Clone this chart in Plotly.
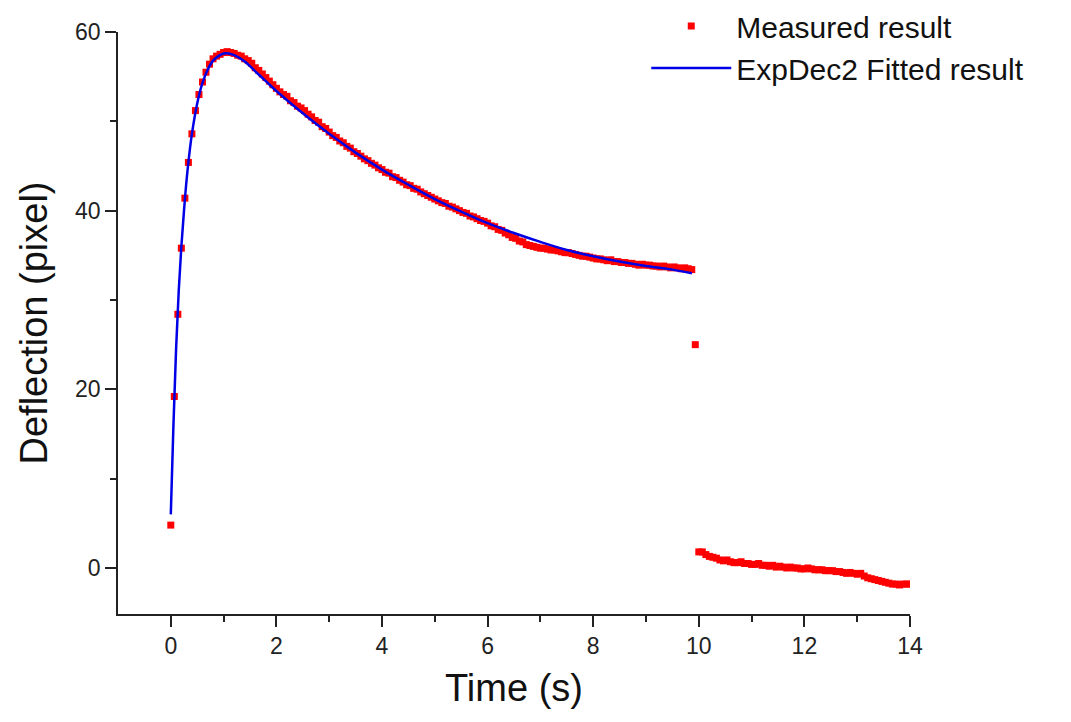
import plotly.graph_objects as go

# ---- data ----
FRAME_DT = 1 / 15  # sampling interval of the measurement (s)

measured_y_load = [
    4.8, 19.2, 28.4, 35.8, 41.4, 45.4, 48.6, 51.2, 53.0, 54.4, 55.5, 56.4, 57.0, 57.3, 57.5, 57.7, 57.8,
    57.7, 57.6, 57.4, 57.3, 57.0, 56.8, 56.5, 56.0, 55.7, 55.3, 54.9, 54.5, 54.1, 53.7,
    53.3, 53.0, 52.8, 52.3, 52.1, 51.7, 51.5, 51.2, 50.8, 50.5, 50.1, 49.9, 49.4, 49.2, 48.8,
    48.4, 48.2, 47.8, 47.6, 47.2, 47.0, 46.6, 46.4, 46.1, 45.8, 45.6, 45.3, 45.1, 44.8, 44.6,
    44.3, 44.2, 43.8, 43.7, 43.4, 43.2, 42.9, 42.8, 42.5, 42.4, 42.1, 41.9, 41.7, 41.5, 41.3,
    41.1, 40.9, 40.8, 40.5, 40.4, 40.2, 40.0, 39.8, 39.7, 39.4, 39.3, 39.1, 38.9, 38.8, 38.6,
    38.3, 38.2, 37.9, 37.8, 37.5, 37.3, 37.0, 36.9, 36.6, 36.5, 36.2, 36.1, 36.0, 35.9, 35.8,
    35.8, 35.7, 35.6, 35.6, 35.5, 35.4, 35.3, 35.3, 35.2, 35.1, 35.0, 34.9, 34.9, 34.8, 34.7,
    34.6, 34.6, 34.5, 34.4, 34.5, 34.3, 34.3, 34.2, 34.2, 34.1, 34.1, 34.0, 33.9, 34.0, 33.9,
    33.9, 33.8, 33.8, 33.7, 33.8, 33.7, 33.6, 33.7, 33.6, 33.5, 33.6, 33.5, 33.4,
    25.0,
]
measured_y_release = [
    1.8, 1.8, 1.5, 1.3, 1.2, 1.1, 0.9, 0.8, 0.9, 0.7, 0.6, 0.6, 0.7, 0.5, 0.5,
    0.4, 0.4, 0.5, 0.3, 0.3, 0.2, 0.3, 0.1, 0.2, 0.1, 0.0, 0.1, 0.0, 0.0, -0.1,
    -0.1, 0.0, -0.1, -0.2, -0.2, -0.2, -0.3, -0.3, -0.3, -0.4, -0.4, -0.5, -0.6, -0.5, -0.6,
    -0.7, -0.6, -0.9, -1.1, -1.2, -1.3, -1.4, -1.5, -1.6, -1.7, -1.8, -1.8, -1.9, -1.8, -1.8,
    -1.8,
]
release_start_frame = 150

fit_t = [0, 0.05, 0.1, 0.15, 0.2, 0.25, 0.3, 0.35, 0.4, 0.5, 0.6, 0.7, 0.8, 0.9, 1.0, 1.1, 1.2,
         1.4, 1.6, 1.8, 2.0, 2.5, 3.0, 3.5, 4.0, 4.5, 5.0, 5.5, 6.0, 6.5, 7.0, 7.5, 8.0, 8.5,
         9.0, 9.5, 9.87]
fit_y = [6.0, 16.0, 24.5, 31.0, 36.0, 40.0, 43.5, 46.3, 48.6, 52.0, 54.3, 55.8, 56.8, 57.3, 57.6,
         57.6, 57.4, 56.7, 55.6, 54.5, 53.4, 50.9, 48.6, 46.5, 44.6, 42.9, 41.3, 39.9, 38.6, 37.5,
         36.5, 35.6, 34.9, 34.3, 33.8, 33.4, 33.0]

x_tick_vals = [0, 2, 4, 6, 8, 10, 12, 14]
x_minor_vals = [1, 3, 5, 7, 9, 11, 13]
y_tick_vals = [0, 20, 40, 60]
y_minor_vals = [10, 30, 50]

# ---- assemble measured series ----
measured_t = [i * FRAME_DT for i in range(len(measured_y_load))]
measured_t += [(release_start_frame + i) * FRAME_DT for i in range(len(measured_y_release))]
measured_y = measured_y_load + measured_y_release

FONT = "Arial, 'Liberation Sans', sans-serif"
AXIS_COLOR = "#222222"

fig = go.Figure()
fig.add_trace(go.Scatter(
    x=measured_t, y=measured_y, mode="markers", name="Measured result", legendgroup="m",
    marker=dict(symbol="square", size=7, color="#FF0000", line=dict(width=0)),
))
fig.add_trace(go.Scatter(
    x=fit_t, y=fit_y, mode="lines", name="ExpDec2 Fitted result", legendgroup="f",
    line=dict(color="#0000E6", width=2.5, shape="spline"),
))

axis_common = dict(
    showgrid=False, zeroline=False, showline=True, linecolor=AXIS_COLOR, linewidth=1.5,
    ticks="outside", ticklen=11, tickwidth=1.5, tickcolor=AXIS_COLOR,
    tickfont=dict(family=FONT, size=23, color="#222222"),
    mirror=False, automargin=False,
)

fig.update_xaxes(
    **axis_common, range=[-1, 14], tickvals=x_tick_vals,
    minor=dict(ticks="outside", ticklen=6, tickwidth=1.5, tickcolor=AXIS_COLOR, tickvals=x_minor_vals),
    title=dict(text="Time (s)", font=dict(family=FONT, size=38, color="#111111"), standoff=16),
)
fig.update_yaxes(
    **axis_common, range=[-5.15, 60], tickvals=y_tick_vals,
    minor=dict(ticks="outside", ticklen=6, tickwidth=1.5, tickcolor=AXIS_COLOR, tickvals=y_minor_vals),
    title=dict(text="Deflection (pixel)", font=dict(family=FONT, size=38, color="#111111"), standoff=16),
)

# the page body keeps its default 8px margin, so the figure is sized and placed to compensate
fig.update_layout(
    width=1063, height=714,
    margin=dict(l=110, r=161, t=24, b=108, autoexpand=False),
    paper_bgcolor="white", plot_bgcolor="white",
    font=dict(family=FONT, color="#111111"),
    showlegend=True,
    legend=dict(
        x=0.667, y=1.055, xanchor="left", yanchor="top",
        font=dict(family=FONT, size=30, color="#111111"),
        bgcolor="rgba(0,0,0,0)", itemwidth=80, tracegroupgap=0,
    ),
)

fig.write_html("out.html")
